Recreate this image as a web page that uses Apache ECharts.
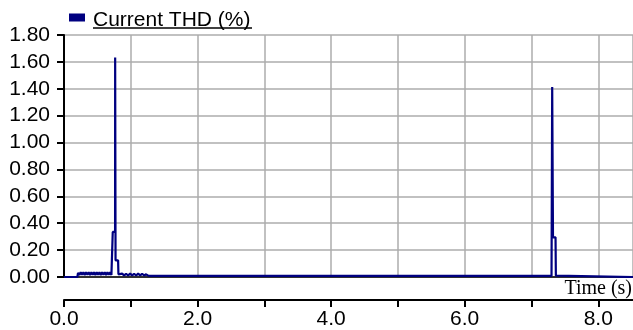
<!DOCTYPE html>
<html>
<head>
<meta charset="utf-8">
<script src="https://cdn.jsdelivr.net/npm/echarts@6/dist/echarts.min.js"></script>
<style>html,body{margin:0;padding:0;background:#fff}#c{width:633px;height:330px}</style>
</head>
<body>
<div id="c"></div>
<script>
var seriesName = 'Current THD (%)';
var times = [0, 0.20, 0.21, 0.23, 0.25, 0.27, 0.29, 0.31, 0.33, 0.35, 0.37, 0.39, 0.41, 0.43, 0.45, 0.47, 0.49, 0.51, 0.53, 0.55, 0.57, 0.59, 0.61, 0.63, 0.65, 0.67, 0.69, 0.71, 0.725,
  0.73, 0.765, 0.766, 0.771, 0.772, 0.81, 0.815,
  0.84, 0.87, 0.90, 0.93, 0.96, 0.99, 1.02, 1.05, 1.08, 1.11, 1.14, 1.17, 1.20, 1.23, 1.26, 1.30,
  1.80, 1.82, 1.84, 7.30, 7.31, 7.318, 7.322, 7.36, 7.365, 7.38, 8.52];
var thd = [0, 0, 0.030, 0.015, 0.036, 0.016, 0.035, 0.015, 0.036, 0.017, 0.035, 0.015, 0.036, 0.016, 0.035, 0.015, 0.036, 0.017, 0.035, 0.015, 0.036, 0.016, 0.035, 0.015, 0.036, 0.017, 0.035, 0.015, 0.020,
  0.335, 0.335, 1.632, 1.632, 0.124, 0.124, 0.020,
  0.012, 0.025, 0.012, 0.024, 0.011, 0.025, 0.012, 0.024, 0.011, 0.025, 0.012, 0.024, 0.011, 0.020, 0.010, 0.008,
  0.008, 0.020, 0.008, 0.008, 1.414, 1.414, 0.295, 0.295, 0.010, 0.0, 0.0];
var yTicks = {min: 0, max: 1.8, step: 0.2};
var xRange = {min: 0, max: 8.52, step: 1};

var data = times.map(function (t, i) { return [t, thd[i]]; });
var chart = echarts.init(document.getElementById('c'), null, {renderer: 'canvas'});
var lab = {fontFamily: 'Liberation Sans, Arial, sans-serif', fontSize: 21, color: '#000'};
chart.setOption({
  animation: false,
  grid: {left: 64, top: 35, right: 0, bottom: 53, containLabel: false},
  legend: {
    data: [{name: seriesName, icon: 'path://M0,0H16V8H0Z M0,14L0,14Z'}], left: 69, top: 10, padding: 0, itemWidth: 16, itemHeight: 14,
    textStyle: {fontFamily: 'Liberation Sans, Arial, sans-serif', fontSize: 21, color: '#000', padding: [0, 0, 0, 3]}
  },
  xAxis: [{
    type: 'value', min: xRange.min, max: xRange.max, interval: xRange.step, position: 'bottom',
    axisLine: {show: true, onZero: false, lineStyle: {color: '#000', width: 1.5}},
    axisTick: {show: false}, axisLabel: {show: false},
    splitLine: {show: true, lineStyle: {color: '#adadad', width: 1.5}}
  }, {
    type: 'value', min: xRange.min, max: xRange.max, interval: xRange.step, position: 'bottom', offset: 23,
    axisLine: {show: true, onZero: false, lineStyle: {color: '#000', width: 2}},
    axisTick: {show: true, inside: false, length: 7, lineStyle: {color: '#000', width: 2}},
    axisLabel: Object.assign({margin: 9, showMaxLabel: false, formatter: function (v) {
      return (Math.round(v) % 2 === 0) ? v.toFixed(1) : '';
    }}, lab),
    splitLine: {show: false}
  }],
  yAxis: {
    type: 'value', min: yTicks.min, max: yTicks.max, interval: yTicks.step,
    axisLine: {show: true, lineStyle: {color: '#000', width: 2}},
    axisTick: {show: true, length: 7, lineStyle: {color: '#000', width: 2}},
    axisLabel: Object.assign({margin: 14, formatter: function (v) { return v.toFixed(2); }}, lab),
    splitLine: {show: true, lineStyle: {color: '#adadad', width: 1.5}}
  },
  series: [{
    name: seriesName, type: 'line', xAxisIndex: 0, data: data, showSymbol: false, symbol: 'none',
    lineStyle: {color: '#000080', width: 2.2}, itemStyle: {color: '#000080'}
  }],
  graphic: [
    {type: 'line', shape: {x1: 93, y1: 28, x2: 252, y2: 28}, style: {stroke: '#000', lineWidth: 1.5}},
    {type: 'text', right: 1, top: 279, style: {text: 'Time (s)', fontFamily: 'Liberation Serif, Times New Roman, serif', fontSize: 20, fill: '#000'}}
  ]
});
</script>
</body>
</html>
